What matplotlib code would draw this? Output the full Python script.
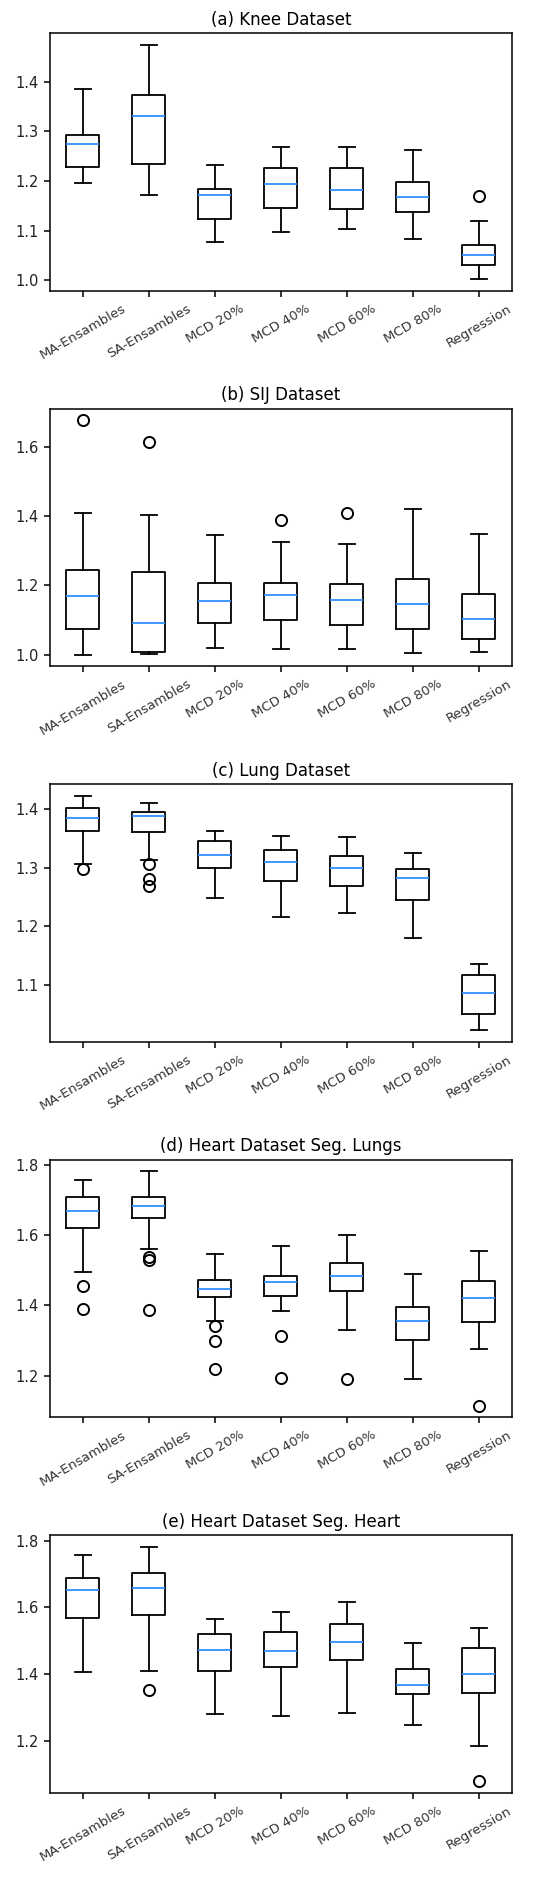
import matplotlib
matplotlib.use("Agg")
import matplotlib.pyplot as plt
from matplotlib.ticker import MultipleLocator

methods = ["MA-Ensambles", "SA-Ensambles", "MCD 20%", "MCD 40%",
           "MCD 60%", "MCD 80%", "Regression"]

# (a) Knee
knee_lo = [1.196, 1.171, 1.076, 1.097, 1.104, 1.082, 1.002]
knee_q1 = [1.229, 1.235, 1.124, 1.145, 1.143, 1.137, 1.031]
knee_med = [1.275, 1.331, 1.171, 1.194, 1.181, 1.168, 1.050]
knee_q3 = [1.292, 1.374, 1.183, 1.226, 1.226, 1.198, 1.070]
knee_hi = [1.385, 1.475, 1.232, 1.268, 1.268, 1.262, 1.120]
knee_fl = [[], [], [], [], [], [], [1.170]]

# (b) SIJ
sij_lo = [1.000, 1.001, 1.019, 1.015, 1.015, 1.004, 1.008]
sij_q1 = [1.074, 1.007, 1.092, 1.100, 1.085, 1.074, 1.045]
sij_med = [1.169, 1.092, 1.154, 1.172, 1.159, 1.147, 1.103]
sij_q3 = [1.245, 1.238, 1.208, 1.208, 1.204, 1.219, 1.175]
sij_hi = [1.409, 1.404, 1.344, 1.326, 1.318, 1.420, 1.348]
sij_fl = [[1.676], [1.612], [], [1.388], [1.409], [], []]

# (c) Lung
lung_lo = [1.307, 1.314, 1.248, 1.215, 1.222, 1.180, 1.022]
lung_q1 = [1.363, 1.361, 1.300, 1.278, 1.268, 1.245, 1.050]
lung_med = [1.385, 1.388, 1.322, 1.309, 1.300, 1.283, 1.085]
lung_q3 = [1.402, 1.395, 1.345, 1.331, 1.320, 1.298, 1.116]
lung_hi = [1.423, 1.410, 1.363, 1.354, 1.352, 1.326, 1.135]
lung_fl = [[1.298], [1.306, 1.280, 1.268], [], [], [], [], []]

# (d) Heart, seg. lungs
hl_lo = [1.496, 1.560, 1.355, 1.384, 1.331, 1.190, 1.276]
hl_q1 = [1.620, 1.648, 1.424, 1.428, 1.441, 1.303, 1.352]
hl_med = [1.669, 1.683, 1.446, 1.467, 1.485, 1.356, 1.421]
hl_q3 = [1.708, 1.709, 1.473, 1.485, 1.521, 1.395, 1.470]
hl_hi = [1.756, 1.781, 1.546, 1.569, 1.600, 1.490, 1.554]
hl_fl = [[1.456, 1.391], [1.537, 1.530, 1.387], [1.341, 1.299, 1.220],
         [1.312, 1.194], [1.190], [], [1.115]]

# (e) Heart, seg. heart
hh_lo = [1.406, 1.409, 1.280, 1.276, 1.284, 1.249, 1.186]
hh_q1 = [1.568, 1.576, 1.410, 1.421, 1.443, 1.341, 1.345]
hh_med = [1.652, 1.657, 1.473, 1.469, 1.496, 1.367, 1.402]
hh_q3 = [1.689, 1.704, 1.519, 1.526, 1.549, 1.417, 1.480]
hh_hi = [1.758, 1.781, 1.564, 1.587, 1.617, 1.493, 1.539]
hh_fl = [[], [1.352], [], [], [], [], [1.080]]

panels = [
    ("(a) Knee Dataset", knee_lo, knee_q1, knee_med, knee_q3, knee_hi, knee_fl, 0.1),
    ("(b) SIJ Dataset", sij_lo, sij_q1, sij_med, sij_q3, sij_hi, sij_fl, 0.2),
    ("(c) Lung Dataset", lung_lo, lung_q1, lung_med, lung_q3, lung_hi, lung_fl, 0.1),
    ("(d) Heart Dataset Seg. Lungs", hl_lo, hl_q1, hl_med, hl_q3, hl_hi, hl_fl, 0.2),
    ("(e) Heart Dataset Seg. Heart", hh_lo, hh_q1, hh_med, hh_q3, hh_hi, hh_fl, 0.2),
]

lw = 1.3
plt.rcParams["axes.linewidth"] = 1.1
plt.rcParams["xtick.major.size"] = 4.5
plt.rcParams["ytick.major.size"] = 4.5
plt.rcParams["xtick.major.width"] = 1.1
plt.rcParams["ytick.major.width"] = 1.1

fig, axes = plt.subplots(5, 1, figsize=(5.5, 18.78), dpi=100)
plt.subplots_adjust(left=0.0909, right=0.9309, top=0.9824, bottom=0.0453,
                    hspace=0.457)

for ax, (title, lo, q1, med, q3, hi, fl, step) in zip(axes, panels):
    stats = []
    for i in range(len(methods)):
        stats.append({"label": methods[i], "whislo": lo[i], "q1": q1[i],
                      "med": med[i], "q3": q3[i], "whishi": hi[i],
                      "fliers": fl[i]})
    ax.bxp(stats,
           boxprops=dict(linewidth=lw),
           whiskerprops=dict(linewidth=lw),
           capprops=dict(linewidth=lw),
           medianprops=dict(color="#2e8fff", linewidth=lw),
           flierprops=dict(marker="o", markersize=8, markeredgewidth=1.4,
                           markerfacecolor="none", markeredgecolor="black"))
    ax.yaxis.set_major_locator(MultipleLocator(step))
    ax.set_title(title, fontsize=12)
    ax.tick_params(axis="x", labelsize=9.5, rotation=30, labelcolor="#333333")
    ax.tick_params(axis="y", labelsize=10.5, labelcolor="#222222")

plt.savefig("out.png")
